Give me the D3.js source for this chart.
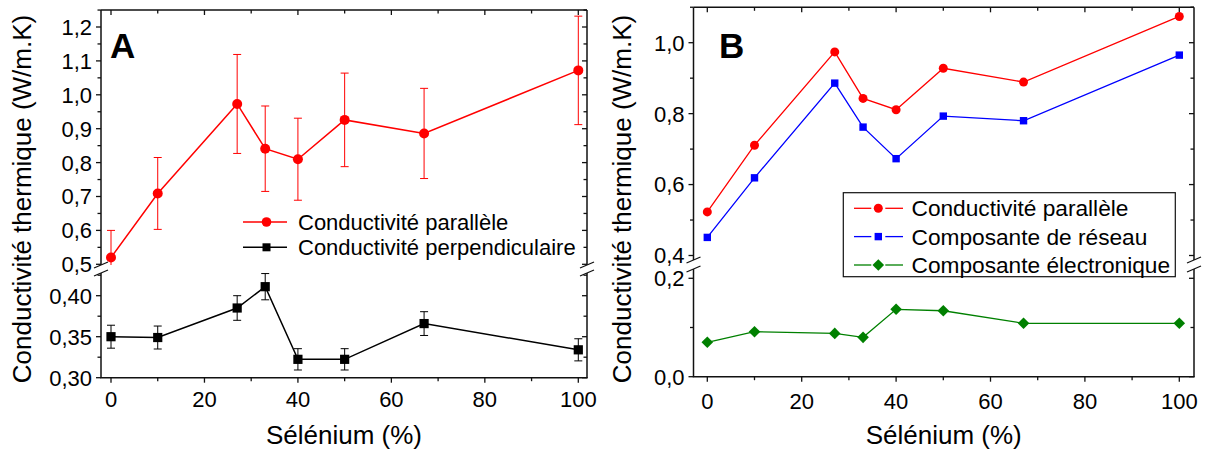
<!DOCTYPE html>
<html><head><meta charset="utf-8">
<script src="https://cdn.jsdelivr.net/npm/d3@7"></script>
<style>
body{margin:0;background:#fff}
svg{display:block}
text{font-family:"Liberation Sans",Arial,sans-serif;fill:#000}
</style>
</head><body>
<svg id="c" width="1207" height="450"></svg>
<script>
// ---------------- data ----------------
const selenium = [0, 10, 27, 33, 40, 50, 67, 100];
const xTicks = [0, 20, 40, 60, 80, 100];
const xAllTicks = [0, 10, 20, 30, 40, 50, 60, 70, 80, 90, 100];

// Panel A
const parallelA = [0.520, 0.709, 0.973, 0.841, 0.810, 0.926, 0.886, 1.072];
const parallelAErr = [0.080, 0.106, 0.146, 0.126, 0.121, 0.138, 0.133, 0.160];
const perpA = [0.350, 0.349, 0.385, 0.411, 0.3224, 0.3224, 0.366, 0.334];
const perpAErr = [0.014, 0.014, 0.015, 0.016, 0.013, 0.013, 0.0145, 0.0135];

// Panel B
const parallelB = [0.523, 0.711, 0.974, 0.843, 0.811, 0.928, 0.889, 1.074];
const latticeB = [0.451, 0.619, 0.886, 0.762, 0.673, 0.793, 0.780, 0.965];
const electronB = [0.070, 0.0915, 0.088, 0.080, 0.137, 0.134, 0.1085, 0.1085];

const yTicksAUpper = [0.5, 0.6, 0.7, 0.8, 0.9, 1.0, 1.1, 1.2];
const yTicksALower = [0.30, 0.35, 0.40];
const yTicksBUpper = [0.4, 0.6, 0.8, 1.0];
const yTicksBLower = [0.0, 0.2];

const legendA = ["Conductivité parallèle", "Conductivité perpendiculaire"];
const legendB = ["Conductivité parallèle", "Composante de réseau", "Composante électronique"];
const xTitle = "Sélénium (%)";
const yTitle = "Conductivité thermique (W/m.K)";

// ---------------- helpers ----------------
const fr = d3.formatLocale({decimal: ",", thousands: " ", grouping: [3], currency: ["", "€"]});
const svg = d3.select("#c");
const FS_TICK = 22, FS_TITLE = 26;

function marker(g, type, x, y, color, size) {
  if (type === "circle") {
    g.append("circle").attr("cx", x).attr("cy", y).attr("r", size).attr("fill", color);
  } else if (type === "square") {
    g.append("rect").attr("x", x - size).attr("y", y - size).attr("width", 2 * size).attr("height", 2 * size).attr("fill", color);
  } else if (type === "diamond") {
    g.append("path").attr("d", `M${x},${y - size}L${x + size},${y}L${x},${y + size}L${x - size},${y}Z`).attr("fill", color);
  }
}

function steps(lo, hi, step) {
  const out = [];
  const s = Math.ceil(lo / step - 1e-6);
  for (let k = s; k * step <= hi + 1e-9; k++) out.push(+(k * step).toFixed(6));
  return out;
}

function drawPanel(cfg) {
  const g = svg.append("g");
  const L = cfg.left, R = cfg.right, T = cfg.top, B = cfg.bottom;
  const x = d3.scaleLinear().domain([0, 100]).range(cfg.xRange);
  const segs = [
    {y: d3.scaleLinear().domain(cfg.upperDomain).range(cfg.upperRange), y0: T, y1: cfg.breakTop,
     ticks: cfg.upperTicks, minor: cfg.upperMinor, fmt: cfg.upperFmt},
    {y: d3.scaleLinear().domain(cfg.lowerDomain).range(cfg.lowerRange), y0: cfg.breakBot, y1: B,
     ticks: cfg.lowerTicks, minor: cfg.lowerMinor, fmt: cfg.lowerFmt}
  ];
  const id = cfg.id;
  segs.forEach((s, i) => {
    svg.append("clipPath").attr("id", id + "clip" + i)
      .append("rect").attr("x", L).attr("y", s.y0).attr("width", R - L).attr("height", s.y1 - s.y0);
  });

  // frame
  const fg = g.append("g").attr("stroke", "#111").attr("stroke-width", 1.5).attr("fill", "none");
  fg.append("line").attr("x1", L).attr("x2", R).attr("y1", T).attr("y2", T);
  fg.append("line").attr("x1", L - 0.75).attr("x2", R + 0.75).attr("y1", B).attr("y2", B);
  [L, R].forEach(xx => {
    fg.append("line").attr("x1", xx).attr("x2", xx).attr("y1", T).attr("y2", cfg.breakTop);
    fg.append("line").attr("x1", xx).attr("x2", xx).attr("y1", cfg.breakBot).attr("y2", B);
    [cfg.breakTop, cfg.breakBot].forEach(yy => {
      fg.append("line").attr("x1", xx - 7).attr("y1", yy + 3).attr("x2", xx + 7).attr("y2", yy - 3).attr("stroke-width", 1.3);
    });
  });

  // x ticks
  const tg = g.append("g").attr("stroke", "#111").attr("stroke-width", 1.3);
  xAllTicks.forEach(v => {
    const major = xTicks.includes(v);
    const len = major ? 5 : 3.5;
    tg.append("line").attr("x1", x(v)).attr("x2", x(v)).attr("y1", B).attr("y2", B + len);
    tg.append("line").attr("x1", x(v)).attr("x2", x(v)).attr("y1", T).attr("y2", T + len);
  });
  xTicks.forEach(v => {
    g.append("text").attr("x", x(v)).attr("y", B + cfg.xLabelOff).attr("text-anchor", "middle")
      .attr("font-size", FS_TICK).text(v);
  });

  // y ticks
  segs.forEach(s => {
    s.minor.forEach(v => {
      const major = s.ticks.some(t => Math.abs(t - v) < 1e-6);
      const len = major ? 5 : 3.5;
      tg.append("line").attr("x1", L - len).attr("x2", L).attr("y1", s.y(v)).attr("y2", s.y(v));
      tg.append("line").attr("x1", R - len).attr("x2", R).attr("y1", s.y(v)).attr("y2", s.y(v));
    });
    s.ticks.forEach(v => {
      g.append("text").attr("x", L - 9).attr("y", s.y(v)).attr("dy", "0.36em").attr("text-anchor", "end")
        .attr("font-size", FS_TICK).text(fr.format(s.fmt)(v));
    });
  });

  // titles
  g.append("text").attr("x", (L + R) / 2).attr("y", 443.5).attr("text-anchor", "middle")
    .attr("font-size", FS_TITLE).text(xTitle);
  g.append("text").attr("transform", `translate(${cfg.yTitleX},199) rotate(-90)`).attr("text-anchor", "middle")
    .attr("font-size", FS_TITLE).text(yTitle);
  g.append("text").attr("x", cfg.labelX).attr("y", 57.5).attr("font-size", 35).attr("font-weight", "bold").text(cfg.label);

  // series
  cfg.series.forEach(se => {
    const s = segs[se.seg];
    const dg = g.append("g").attr("clip-path", `url(#${id}clip${se.seg})`);
    if (se.err) {
      se.values.forEach((v, i) => {
        const xx = x(selenium[i]);
        const ya = s.y(v - se.err[i]), yb = s.y(v + se.err[i]);
        dg.append("line").attr("x1", xx).attr("x2", xx).attr("y1", ya).attr("y2", yb)
          .attr("stroke", se.color).attr("stroke-width", 1);
        [ya, yb].forEach(yy => dg.append("line").attr("x1", xx - 4).attr("x2", xx + 4).attr("y1", yy).attr("y2", yy)
          .attr("stroke", se.color).attr("stroke-width", 1));
      });
    }
    const line = d3.line().x((d, i) => x(selenium[i])).y(d => s.y(d));
    dg.append("path").attr("d", line(se.values)).attr("fill", "none").attr("stroke", se.color).attr("stroke-width", se.lw);
    const mg = g.append("g");
    se.values.forEach((v, i) => marker(mg, se.marker, x(selenium[i]), s.y(v), se.color, se.size));
  });

  // legend
  const lg = g.append("g");
  const lc = cfg.legend;
  if (lc.box) {
    lg.append("rect").attr("x", lc.box[0]).attr("y", lc.box[1]).attr("width", lc.box[2]).attr("height", lc.box[3])
      .attr("fill", "#fff").attr("stroke", "#111").attr("stroke-width", 1.2);
  }
  cfg.series.forEach((se, i) => {
    const yy = lc.rows[i];
    if (lc.gap) {
      lg.append("line").attr("x1", lc.x1).attr("x2", lc.mx - lc.gap).attr("y1", yy).attr("y2", yy).attr("stroke", se.color).attr("stroke-width", se.lw);
      lg.append("line").attr("x1", lc.mx + lc.gap).attr("x2", lc.x2).attr("y1", yy).attr("y2", yy).attr("stroke", se.color).attr("stroke-width", se.lw);
    } else {
      lg.append("line").attr("x1", lc.x1).attr("x2", lc.x2).attr("y1", yy).attr("y2", yy).attr("stroke", se.color).attr("stroke-width", se.lw);
    }
    marker(lg, se.marker, lc.mx, yy, se.color, se.lsize || se.size);
    lg.append("text").attr("x", lc.tx).attr("y", yy).attr("dy", "0.36em").attr("font-size", lc.fs).text(lc.labels[i]);
  });
}

drawPanel({
  id: "A", label: "A", labelX: 110,
  left: 101, right: 587, top: 10, bottom: 377.7, breakTop: 265, breakBot: 273,
  xRange: [111, 578.3], xLabelOff: 29.3, yTitleX: 30.5,
  upperDomain: [0.5, 1.2], upperRange: [264.3, 27], upperTicks: yTicksAUpper,
  upperMinor: steps(0.5, 1.25, 0.05), upperFmt: ".1f",
  lowerDomain: [0.30, 0.40], lowerRange: [377.7, 295.7], lowerTicks: yTicksALower,
  lowerMinor: steps(0.30, 0.425, 0.025), lowerFmt: ".2f",
  series: [
    {values: parallelA, err: parallelAErr, seg: 0, color: "#ff0000", marker: "circle", size: 5, lsize: 4.8, lw: 1.5},
    {values: perpA, err: perpAErr, seg: 1, color: "#000000", marker: "square", size: 4.6, lsize: 4, lw: 1.5}
  ],
  legend: {rows: [222, 247.3], x1: 243, x2: 287, mx: 266.5, tx: 298, fs: 22, labels: legendA}
});

drawPanel({
  id: "B", label: "B", labelX: 719,
  left: 693.5, right: 1194, top: 7.3, bottom: 376.7, breakTop: 260, breakBot: 269,
  xRange: [707.3, 1179.3], xLabelOff: 32.3, yTitleX: 630.5,
  upperDomain: [0.4, 1.0], upperRange: [255.5, 42.7], upperTicks: yTicksBUpper,
  upperMinor: steps(0.4, 1.1, 0.1), upperFmt: ".1f",
  lowerDomain: [0.0, 0.2], lowerRange: [376.7, 278.3], lowerTicks: yTicksBLower,
  lowerMinor: steps(0.0, 0.2, 0.1), lowerFmt: ".1f",
  series: [
    {values: parallelB, seg: 0, color: "#ff0000", marker: "circle", size: 4.5, lw: 1.3},
    {values: latticeB, seg: 0, color: "#0000ff", marker: "square", size: 3.7, lw: 1.3},
    {values: electronB, seg: 1, color: "#008000", marker: "diamond", size: 5.8, lw: 1.3}
  ],
  legend: {box: [843.3, 192.7, 332, 84], rows: [208.3, 236.6, 265], x1: 854, x2: 903, mx: 878.3, gap: 7, tx: 911.5, fs: 22.7, labels: legendB}
});
</script>
</body></html>
